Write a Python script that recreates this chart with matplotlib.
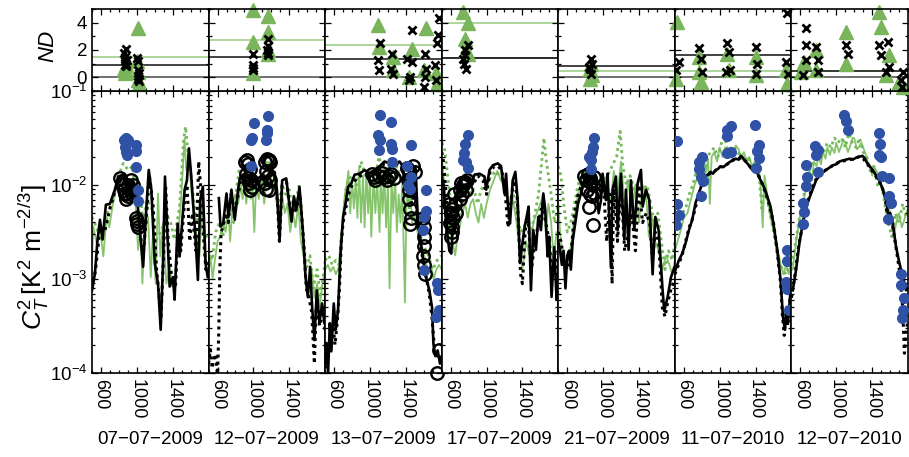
"""C_T^2 daily courses (bottom) and ND scatter (top) for seven measurement days."""
import matplotlib
matplotlib.use("Agg")
import matplotlib.pyplot as plt
from matplotlib.ticker import MultipleLocator, FixedLocator, LogLocator, NullFormatter

plt.rcParams["font.family"] = ["Liberation Sans", "DejaVu Sans"]
plt.rcParams["mathtext.fontset"] = "custom"
plt.rcParams["mathtext.rm"] = "Liberation Sans"
plt.rcParams["mathtext.it"] = "Liberation Sans:italic"

days = ["07\u221207\u22122009", "12\u221207\u22122009", "13\u221207\u22122009", "17\u221207\u22122009",
        "21\u221207\u22122009", "11\u221207\u22122010", "12\u221207\u22122010"]

# log10(C_T^2) against time of day, one list of (time, value) per day
ct2_black_solid = [
    [(500, -3.12), (533, -2.94), (560, -2.6), (589, -2.37), (618, -2.58), (655, -2.21), (700, -2.20),
     (755, -2.05), (792, -1.91), (848, -1.89), (903, -1.95), (959, -1.98), (996, -2.05), (1033, -2.48),
     (1070, -2.87), (1100, -2.34), (1133, -1.84), (1162, -2.05), (1200, -2.83), (1236, -3.05),
     (1266, -3.54), (1292, -2.83), (1314, -1.91), (1336, -2.41), (1366, -3.08), (1403, -2.98),
     (1421, -3.22), (1455, -2.41), (1477, -2.76), (1533, -2.05), (1559, -1.95), (1581, -1.61),
     (1607, -1.91), (1633, -2.27), (1655, -2.58), (1681, -3.01), (1707, -2.16), (1736, -2.02),
     (1766, -2.83), (1792, -2.98)],
    [(615, -2.14), (633, -2.44), (663, -2.41), (700, -2.09), (722, -2.34), (755, -2.05), (792, -2.37),
     (829, -2.05), (848, -1.93), (885, -1.89), (940, -1.93), (996, -1.95), (1051, -1.93), (1107, -1.89),
     (1150, -1.95), (1181, -1.86), (1236, -1.86), (1262, -2.05), (1292, -2.58), (1321, -1.95),
     (1366, -1.93), (1395, -2.16), (1425, -2.39), (1451, -2.12), (1477, -2.27), (1514, -2.02),
     (1551, -2.48), (1581, -2.98), (1607, -3.19), (1633, -2.87), (1655, -3.30), (1681, -3.65),
     (1707, -3.12), (1736, -3.47), (1766, -3.26), (1792, -3.47)],
    [(500, -3.90), (515, -3.68), (533, -4.0), (552, -3.47), (570, -3.76), (596, -3.26), (618, -3.54),
     (644, -3.33), (670, -2.76), (700, -2.34), (729, -2.19), (755, -2.02), (792, -1.98), (829, -1.89),
     (885, -1.88), (940, -1.84), (996, -1.88), (1051, -1.84), (1107, -1.80), (1162, -1.75),
     (1218, -1.77), (1273, -1.79), (1329, -1.75), (1366, -1.80), (1395, -2.05), (1421, -1.88),
     (1447, -2.02), (1477, -2.12), (1507, -1.80), (1533, -2.34), (1559, -2.55), (1588, -2.76),
     (1625, -2.98), (1662, -3.12), (1692, -3.30), (1707, -3.68), (1729, -3.82), (1755, -3.76),
     (1781, -3.90), (1800, -3.85)],
    [(500, -1.9), (520, -2.0), (540, -2.3), (560, -2.5), (585, -2.7), (607, -2.73), (626, -2.41),
     (644, -2.5), (665, -2.2), (681, -2.05), (718, -1.95), (774, -1.91), (829, -1.98), (866, -1.89),
     (922, -1.88), (977, -1.91), (996, -2.05), (1033, -1.84), (1070, -1.79), (1125, -1.77),
     (1162, -1.80), (1199, -2.09), (1218, -1.88), (1236, -2.19), (1262, -2.41), (1292, -1.95),
     (1321, -1.86), (1347, -2.16), (1373, -2.83), (1395, -2.66), (1425, -2.44), (1447, -2.34),
     (1469, -2.23), (1495, -3.12), (1521, -2.48), (1551, -2.69), (1577, -2.34), (1607, -2.48),
     (1633, -2.09), (1655, -2.27), (1681, -2.76), (1699, -2.55), (1725, -3.19), (1755, -2.66),
     (1781, -3.22), (1800, -3.0)],
    [(500, -2.6), (520, -2.7), (540, -2.85), (560, -2.7), (580, -3.1), (600, -2.75), (620, -2.7),
     (640, -2.9), (660, -2.6), (690, -2.4), (720, -2.2), (750, -2.1), (780, -2.0), (810, -1.88),
     (850, -1.95), (880, -1.9), (920, -2.0), (950, -2.3), (976, -2.16), (994, -1.88), (1031, -2.16),
     (1050, -1.88), (1087, -2.88), (1106, -2.05), (1143, -1.91), (1162, -2.48), (1199, -1.88),
     (1236, -2.58), (1255, -2.05), (1284, -2.69), (1310, -1.95), (1348, -2.48), (1385, -1.98),
     (1422, -1.84), (1441, -2.23), (1478, -2.05), (1515, -2.16), (1552, -2.95), (1582, -2.34),
     (1619, -2.48), (1664, -3.13), (1682, -3.34), (1720, -3.19), (1757, -2.98), (1794, -2.88)],
    [(508, -2.90), (545, -2.80), (582, -2.73), (619, -2.62), (657, -2.48), (694, -2.37), (731, -2.19),
     (768, -2.09), (805, -1.98), (842, -1.91), (870, -1.89), (898, -1.86), (925, -1.88), (954, -1.84),
     (980, -1.83), (1010, -1.80), (1040, -1.81), (1065, -1.79), (1090, -1.77), (1121, -1.75),
     (1150, -1.74), (1177, -1.72), (1214, -1.73), (1235, -1.69), (1251, -1.70), (1280, -1.74),
     (1307, -1.77), (1335, -1.80), (1363, -1.84), (1390, -1.85), (1419, -1.87), (1445, -1.93),
     (1474, -1.98), (1500, -2.04), (1530, -2.12), (1567, -2.23), (1604, -2.44), (1642, -2.69),
     (1679, -3.01), (1705, -3.40), (1727, -3.54), (1746, -3.30), (1764, -3.44), (1790, -3.12)],
    [(515, -3.12), (552, -2.90), (589, -2.62), (626, -2.41), (664, -2.23), (719, -2.09), (775, -1.95),
     (831, -1.88), (887, -1.84), (961, -1.79), (1000, -1.78), (1035, -1.75), (1070, -1.74),
     (1110, -1.73), (1150, -1.72), (1184, -1.73), (1220, -1.71), (1258, -1.70), (1290, -1.69),
     (1314, -1.71), (1340, -1.76), (1370, -1.80), (1400, -1.83), (1426, -1.87), (1455, -1.92),
     (1481, -1.95), (1518, -2.05), (1556, -2.16), (1593, -2.41), (1610, -2.33), (1630, -2.41),
     (1667, -2.66), (1704, -2.83), (1741, -2.97), (1779, -3.12), (1800, -3.1)],
]

ct2_black_dotted = [
    [(500, -3.1), (540, -2.9), (590, -2.45), (640, -2.5), (700, -2.25), (760, -2.05), (820, -1.95),
     (880, -2.0), (940, -2.0), (990, -2.1), (1030, -2.45), (1070, -2.75), (1110, -2.3), (1140, -1.9),
     (1180, -2.2), (1220, -2.9), (1270, -3.4), (1300, -2.7), (1320, -2.0), (1350, -2.6), (1390, -3.0),
     (1430, -3.1), (1460, -2.5), (1490, -2.7), (1530, -2.2), (1560, -2.0), (1590, -2.6), (1620, -2.3),
     (1660, -2.7), (1690, -1.75), (1710, -2.0), (1740, -2.5), (1770, -2.9), (1800, -2.8)],
    [(500, -3.9), (520, -3.75), (540, -3.95), (560, -3.85), (580, -3.8), (600, -4.05), (615, -3.5),
     (625, -2.9), (640, -2.5), (660, -2.45), (690, -2.3), (720, -2.4), (750, -2.1), (790, -2.3),
     (830, -2.1), (860, -1.95), (900, -1.92), (950, -1.95), (1000, -1.97), (1060, -1.95), (1110, -1.9),
     (1160, -1.95), (1200, -1.88), (1240, -1.9), (1270, -2.2), (1290, -2.6), (1320, -2.0),
     (1370, -1.97), (1400, -2.2), (1440, -2.3), (1480, -2.25), (1520, -2.1), (1560, -2.6),
     (1590, -3.1), (1620, -3.2), (1650, -3.35), (1680, -3.9), (1700, -3.3), (1740, -3.5),
     (1770, -3.3), (1800, -3.55)],
    [(500, -3.95), (520, -3.85), (540, -3.7), (560, -3.8), (590, -3.5), (610, -3.7), (640, -3.4),
     (660, -3.1), (680, -2.6), (700, -2.4), (730, -2.25), (760, -2.1), (800, -2.0), (850, -1.93),
     (900, -1.9), (950, -1.88), (1000, -1.9), (1050, -1.85), (1100, -1.83), (1150, -1.78),
     (1200, -1.8), (1250, -1.8), (1300, -1.78), (1350, -1.82), (1400, -1.95), (1430, -2.1),
     (1470, -2.2), (1500, -2.0), (1530, -2.4), (1560, -2.6), (1590, -2.8), (1630, -3.0),
     (1660, -3.15), (1690, -3.4), (1720, -3.75), (1750, -3.8), (1780, -3.82), (1800, -3.9)],
    [(500, -1.65), (520, -1.75), (540, -2.0), (560, -2.2), (590, -2.4), (620, -2.35), (650, -2.2),
     (680, -2.1), (720, -2.2), (760, -1.95), (800, -1.95), (850, -2.0), (900, -1.9), (960, -1.95),
     (1000, -2.1), (1040, -1.85), (1090, -1.8), (1130, -1.8), (1170, -1.85), (1200, -2.0),
     (1240, -2.45), (1270, -2.2), (1300, -1.95), (1340, -2.1), (1380, -2.95), (1400, -3.05),
     (1430, -2.5), (1460, -2.3), (1500, -2.9), (1540, -2.6), (1580, -2.4), (1620, -2.2),
     (1660, -2.4), (1700, -2.6), (1730, -3.0), (1760, -2.7), (1800, -3.1)],
    [(500, -2.5), (530, -2.6), (560, -2.8), (600, -2.9), (640, -2.75), (680, -2.3), (720, -2.1),
     (760, -2.0), (800, -1.95), (850, -1.9), (900, -1.95), (950, -2.0), (980, -2.1), (1000, -1.95),
     (1040, -2.6), (1080, -2.1), (1100, -3.05), (1120, -2.0), (1160, -2.6), (1200, -2.0),
     (1240, -2.7), (1280, -2.5), (1320, -2.3), (1360, -2.7), (1400, -2.0), (1440, -2.4),
     (1480, -2.3), (1520, -2.4), (1550, -2.8), (1580, -2.5), (1620, -2.6), (1660, -3.3),
     (1690, -3.4), (1720, -3.25), (1760, -3.1), (1800, -3.0)],
    [(500, -2.95), (540, -2.85), (580, -2.75), (620, -2.6), (660, -2.45), (700, -2.35), (740, -2.2),
     (780, -2.05), (820, -1.95), (860, -1.9), (900, -1.87), (950, -1.85), (1000, -1.81), (1050, -1.8),
     (1100, -1.77), (1150, -1.73), (1200, -1.72), (1250, -1.71), (1300, -1.76), (1350, -1.82),
     (1400, -1.86), (1450, -1.93), (1500, -2.05), (1550, -2.2), (1600, -2.4), (1640, -2.7),
     (1680, -3.05), (1700, -3.4), (1720, -3.6), (1740, -3.35), (1760, -3.5), (1790, -3.15)],
    [(500, -3.2), (540, -2.95), (580, -2.65), (620, -2.45), (660, -2.25), (700, -2.12), (750, -1.98),
     (800, -1.9), (850, -1.86), (900, -1.83), (950, -1.8), (1000, -1.77), (1050, -1.75), (1100, -1.74),
     (1150, -1.73), (1200, -1.72), (1250, -1.7), (1300, -1.72), (1350, -1.78), (1400, -1.85),
     (1450, -1.92), (1500, -2.0), (1540, -2.1), (1570, -2.35), (1600, -2.3), (1640, -2.5),
     (1680, -2.75), (1710, -2.95), (1740, -3.3), (1760, -3.79), (1780, -3.6), (1800, -3.4)],
]

ct2_green_solid = [
    [(500, -2.8), (515, -2.44), (552, -2.62), (589, -2.45), (626, -2.76), (663, -2.34), (692, -2.45),
     (729, -2.23), (774, -2.02), (818, -1.95), (866, -1.91), (914, -2.02), (940, -2.19), (977, -2.05),
     (1014, -2.69), (1040, -2.41), (1062, -3.05), (1088, -2.48), (1125, -2.34), (1155, -2.98),
     (1181, -2.48), (1210, -3.05), (1236, -2.09), (1262, -2.76), (1292, -2.41), (1329, -3.05),
     (1366, -2.87), (1395, -3.08), (1432, -2.98), (1458, -2.58), (1495, -2.12), (1533, -1.5),
     (1551, -1.84), (1581, -1.70), (1607, -2.05), (1644, -2.41), (1670, -2.55), (1699, -2.76),
     (1729, -2.16), (1755, -2.58), (1781, -2.98), (1799, -2.90)],
    [(500, -2.95), (520, -2.75), (545, -3.0), (570, -2.8), (600, -2.6), (630, -2.55), (660, -2.4),
     (690, -2.5), (720, -2.25), (740, -2.6), (770, -2.2), (800, -2.1), (830, -2.2), (860, -2.0),
     (880, -2.15), (900, -1.95), (920, -2.2), (950, -1.9), (970, -2.15), (990, -2.05), (1010, -2.5),
     (1030, -2.0), (1060, -2.15), (1090, -1.9), (1120, -2.2), (1150, -1.95), (1180, -1.75),
     (1200, -2.0), (1230, -1.95), (1260, -2.2), (1290, -2.4), (1320, -2.1), (1350, -2.3),
     (1380, -2.2), (1410, -2.5), (1440, -2.3), (1470, -2.45), (1500, -2.2), (1530, -2.6),
     (1560, -2.75), (1590, -3.0), (1620, -3.1), (1650, -2.9), (1680, -3.2), (1710, -3.05),
     (1740, -3.3), (1770, -3.05), (1800, -2.9)],
    [(500, -2.9), (530, -2.85), (560, -2.92), (590, -2.87), (620, -2.95), (650, -2.88), (680, -2.5),
     (700, -2.35), (720, -2.1), (740, -2.0), (760, -1.85), (780, -2.3), (800, -1.95), (820, -2.25),
     (840, -1.95), (860, -2.35), (880, -1.8), (900, -2.4), (922, -1.9), (940, -2.45), (960, -1.85),
     (980, -2.3), (1000, -1.9), (1014, -2.55), (1040, -1.9), (1060, -2.3), (1080, -1.95),
     (1107, -2.5), (1120, -1.85), (1140, -2.3), (1160, -1.9), (1180, -2.45), (1200, -1.95),
     (1218, -3.1), (1240, -1.95), (1260, -2.3), (1280, -1.9), (1300, -2.5), (1320, -2.1),
     (1340, -2.4), (1360, -2.0), (1390, -3.25), (1410, -2.0), (1430, -2.2), (1450, -2.05),
     (1470, -2.4), (1500, -2.3), (1530, -2.5), (1560, -2.6), (1590, -2.7), (1620, -2.8),
     (1650, -2.95), (1680, -2.85), (1710, -3.0), (1740, -2.9), (1770, -2.85), (1800, -2.9)],
    [(500, -1.7), (520, -1.9), (540, -2.1), (560, -2.3), (590, -2.5), (620, -2.6), (650, -2.75),
     (670, -2.6), (700, -2.45), (730, -2.3), (760, -2.2), (790, -2.35), (820, -2.2), (850, -2.15),
     (880, -2.3), (910, -2.4), (940, -2.2), (970, -2.35), (1000, -2.2), (1040, -2.05), (1080, -1.95),
     (1120, -1.85), (1160, -1.95), (1200, -2.0), (1240, -2.2), (1280, -2.1), (1320, -2.3),
     (1360, -2.6), (1400, -2.9), (1440, -2.6), (1480, -2.75), (1520, -2.4), (1560, -2.3),
     (1600, -2.2), (1630, -2.1), (1660, -2.5), (1690, -2.2), (1720, -2.4), (1750, -2.8),
     (1780, -2.5), (1800, -2.6)],
    [(500, -2.2), (520, -2.5), (550, -2.8), (580, -2.9), (610, -2.8), (640, -2.65), (680, -2.35),
     (720, -2.1), (760, -1.95), (800, -1.85), (840, -2.0), (880, -1.9), (920, -2.05), (960, -1.95),
     (1000, -2.1), (1040, -1.9), (1080, -2.2), (1120, -1.85), (1160, -2.1), (1200, -1.75),
     (1240, -2.2), (1280, -1.95), (1320, -2.3), (1360, -2.0), (1400, -2.4), (1440, -2.0),
     (1480, -2.1), (1510, -2.55), (1540, -2.3), (1580, -2.6), (1620, -2.7), (1660, -2.9),
     (1700, -2.75), (1740, -2.85), (1770, -2.95), (1800, -2.8)],
    [(500, -2.7), (530, -2.6), (560, -2.5), (600, -2.35), (640, -2.3), (680, -2.15), (720, -2.0),
     (760, -1.9), (790, -1.8), (820, -1.75), (850, -1.85), (870, -1.72), (890, -2.2), (910, -1.7),
     (940, -1.65), (970, -1.75), (1000, -1.6), (1030, -1.7), (1060, -1.6), (1090, -1.68),
     (1120, -1.6), (1150, -1.65), (1180, -1.58), (1210, -1.62), (1240, -1.7), (1270, -1.65),
     (1300, -1.75), (1330, -1.7), (1360, -1.8), (1390, -1.75), (1420, -1.85), (1450, -1.9),
     (1480, -2.45), (1500, -1.9), (1530, -2.1), (1560, -2.3), (1590, -2.45), (1620, -2.55),
     (1650, -2.7), (1680, -2.85), (1710, -2.95), (1740, -2.85), (1770, -2.95), (1800, -2.8)],
    [(515, -2.9), (552, -2.6), (600, -2.3), (650, -2.1), (700, -1.85), (730, -1.95), (750, -1.75),
     (780, -1.8), (800, -1.7), (830, -1.78), (850, -1.65), (880, -1.72), (900, -1.6), (930, -1.68),
     (950, -1.6), (980, -1.66), (1000, -1.55), (1030, -1.65), (1050, -1.6), (1080, -1.52),
     (1100, -1.55), (1130, -1.65), (1150, -1.6), (1180, -1.5), (1200, -1.5), (1230, -1.62),
     (1250, -1.6), (1280, -1.55), (1300, -1.6), (1330, -1.68), (1350, -1.75), (1380, -1.8),
     (1400, -1.9), (1430, -1.82), (1450, -1.85), (1480, -1.95), (1500, -2.0), (1530, -2.05),
     (1550, -2.1), (1580, -2.2), (1600, -2.3), (1630, -2.45), (1650, -2.5), (1680, -2.35),
     (1700, -2.3), (1730, -2.45), (1750, -2.4), (1780, -2.3), (1800, -2.25)],
]

ct2_green_dotted = [
    [(500, -2.34), (533, -2.41), (570, -2.5), (626, -2.48), (681, -2.27), (737, -2.16), (792, -1.91),
     (848, -1.77), (903, -1.84), (951, -1.80), (996, -2.23), (1033, -2.05), (1070, -2.41),
     (1107, -2.16), (1162, -2.23), (1218, -2.58), (1273, -2.48), (1343, -2.34), (1380, -2.41),
     (1417, -2.58), (1477, -2.23), (1521, -1.52), (1544, -1.38), (1570, -1.66), (1607, -1.91),
     (1655, -2.34), (1699, -2.41), (1755, -2.51), (1799, -2.58)],
    [(500, -2.7), (540, -2.8), (580, -2.5), (620, -2.4), (660, -2.55), (700, -2.3), (740, -2.2),
     (780, -2.4), (810, -2.05), (840, -1.85), (880, -1.95), (920, -2.0), (960, -1.9), (1000, -2.1),
     (1040, -1.95), (1080, -2.0), (1120, -1.85), (1160, -1.7), (1200, -1.85), (1240, -1.95),
     (1280, -2.2), (1320, -2.0), (1360, -2.1), (1400, -2.05), (1440, -2.3), (1480, -2.15),
     (1510, -2.0), (1550, -2.5), (1590, -2.9), (1630, -2.75), (1670, -3.1), (1710, -2.9),
     (1750, -3.2), (1800, -2.8)],
    [(500, -2.8), (540, -2.75), (580, -2.85), (620, -2.8), (660, -2.85), (700, -2.4), (730, -2.05),
     (760, -1.95), (800, -1.9), (850, -2.0), (900, -1.75), (950, -1.9), (1000, -1.85), (1050, -1.95),
     (1100, -1.7), (1150, -1.85), (1200, -1.8), (1250, -1.9), (1300, -1.8), (1350, -1.95),
     (1400, -2.0), (1450, -2.3), (1500, -2.4), (1550, -2.5), (1600, -2.65), (1650, -2.75),
     (1700, -2.9), (1750, -2.8), (1800, -2.75)],
    [(500, -1.55), (530, -1.6), (560, -1.85), (590, -2.1), (620, -2.3), (660, -2.4), (700, -2.3),
     (740, -2.15), (780, -2.0), (820, -2.1), (860, -2.05), (900, -2.2), (940, -2.05), (980, -2.0),
     (1020, -1.95), (1060, -1.9), (1100, -1.85), (1140, -1.9), (1180, -1.95), (1220, -2.1),
     (1260, -2.2), (1300, -2.1), (1340, -2.3), (1380, -2.5), (1420, -2.45), (1460, -2.35),
     (1500, -2.5), (1540, -2.3), (1580, -2.1), (1610, -1.8), (1640, -1.5), (1660, -1.7),
     (1690, -1.9), (1720, -2.1), (1760, -2.4), (1800, -2.2)],
    [(500, -1.8), (530, -1.9), (560, -2.2), (600, -2.5), (640, -2.4), (680, -2.2), (720, -2.0),
     (760, -1.9), (800, -1.95), (850, -1.85), (900, -1.9), (950, -2.0), (1000, -1.95), (1050, -1.9),
     (1100, -1.8), (1150, -1.7), (1190, -1.43), (1220, -1.8), (1260, -2.0), (1300, -1.9),
     (1350, -2.05), (1400, -1.95), (1450, -2.05), (1490, -2.0), (1530, -2.2), (1570, -2.4),
     (1610, -2.3), (1650, -2.6), (1690, -2.9), (1730, -2.7), (1770, -2.8), (1800, -2.6)],
    [(500, -2.55), (540, -2.4), (580, -2.3), (620, -2.25), (660, -2.1), (700, -2.0), (740, -1.85),
     (780, -1.75), (820, -2.0), (860, -1.7), (900, -1.65), (940, -1.6), (980, -1.7), (1020, -1.55),
     (1050, -1.45), (1080, -1.6), (1120, -1.65), (1160, -1.6), (1200, -1.65), (1240, -1.7),
     (1280, -1.75), (1320, -1.7), (1360, -1.8), (1400, -1.85), (1440, -1.9), (1470, -2.25),
     (1500, -2.0), (1540, -2.2), (1580, -2.4), (1620, -2.6), (1660, -2.8), (1700, -2.9),
     (1740, -2.95), (1780, -2.85), (1800, -2.9)],
    [(500, -2.85), (540, -2.65), (580, -2.4), (620, -2.2), (660, -2.0), (700, -1.85), (740, -1.75),
     (780, -1.7), (820, -1.6), (860, -1.65), (900, -1.55), (940, -1.6), (980, -1.5), (1020, -1.55),
     (1060, -1.5), (1100, -1.6), (1140, -1.45), (1180, -1.55), (1220, -1.6), (1260, -1.5),
     (1300, -1.65), (1340, -1.7), (1380, -1.85), (1420, -1.8), (1460, -2.0), (1500, -1.95),
     (1540, -2.2), (1580, -2.4), (1620, -2.55), (1660, -2.3), (1700, -2.4), (1740, -2.2),
     (1780, -2.35), (1800, -2.3)],
]

ct2_open = [
    [(810, -1.93), (830, -1.98), (850, -2.0), (860, -2.05), (870, -2.1), (880, -2.08), (900, -2.0),
     (920, -2.05), (940, -1.95), (950, -2.1), (960, -2.0), (880, -2.15), (900, -2.12), (990, -2.35),
     (1000, -2.42), (1010, -2.45), (1000, -2.38)],
    [(905, -1.75), (925, -1.73), (945, -1.78), (960, -1.83), (915, -1.88), (935, -1.93), (950, -1.98),
     (970, -1.95), (985, -2.02), (960, -2.05), (1130, -1.75), (1150, -1.72), (1170, -1.73),
     (1190, -1.76), (1140, -1.85), (1160, -1.9), (1180, -1.95), (1125, -1.98), (1145, -2.04),
     (1175, -2.05)],
    [(1020, -1.88), (1040, -1.92), (1060, -1.95), (1100, -1.9), (1130, -1.87), (1160, -1.92),
     (1190, -1.95), (1210, -1.9), (1240, -1.88), (1270, -1.93), (1410, -1.82), (1440, -1.85),
     (1480, -1.8), (1500, -1.86), (1420, -1.95), (1430, -2.05), (1440, -2.15), (1450, -2.25),
     (1455, -2.35), (1445, -2.42), (1590, -2.35), (1600, -2.45), (1605, -2.55), (1600, -2.65),
     (1595, -2.75), (1600, -2.85), (1610, -2.95), (1770, -3.75), (1750, -4.0)],
    [(580, -2.2), (600, -2.3), (620, -2.25), (590, -2.4), (610, -2.45), (630, -2.35), (650, -2.2),
     (640, -2.1), (660, -2.3), (700, -2.05), (720, -1.98), (740, -2.0), (760, -1.97), (780, -1.95),
     (700, -2.15), (730, -2.1), (770, -2.05), (620, -2.5), (600, -2.55)],
    [(790, -1.9), (810, -1.95), (830, -1.88), (850, -1.93), (870, -1.97), (890, -2.0), (900, -1.92),
     (820, -2.05), (850, -2.1), (880, -2.12), (900, -2.08), (846, -2.23), (889, -2.43)],
    [],
    [],
]

ct2_blue = [
    [(860, -1.52), (880, -1.50), (900, -1.52), (870, -1.60), (880, -1.65), (890, -1.68), (990, -1.57),
     (995, -1.64), (990, -1.81), (1010, -2.05), (1015, -2.17)],
    [(1003, -1.34), (985, -1.50), (975, -1.52), (1166, -1.27), (1155, -1.41), (1150, -1.45),
     (1144, -1.52), (977, -1.80)],
    [(1114, -1.26), (1240, -1.33), (1088, -1.47), (1114, -1.52), (1099, -1.63), (1233, -1.56),
     (1251, -1.62), (1462, -1.57), (1251, -1.75), (1418, -1.80), (1455, -1.91), (1429, -2.0),
     (1444, -2.04), (1629, -2.05), (1621, -2.28), (1603, -2.34), (1588, -2.48), (1607, -2.90),
     (1744, -3.04), (1755, -3.12), (1766, -3.33), (1736, -3.40)],
    [(792, -1.47), (763, -1.56), (744, -1.66), (737, -1.73), (766, -1.75), (792, -1.82)],
    [(894, -1.50), (890, -1.60), (880, -1.65), (846, -1.70), (860, -1.73), (865, -1.83)],
    [(527, -1.53), (519, -2.2), (508, -2.34), (545, -2.32), (515, -2.43), (768, -1.75), (798, -1.70),
     (768, -1.83), (787, -1.92), (813, -1.96), (787, -2.12), (1084, -1.41), (1121, -1.37),
     (1084, -1.48), (1084, -1.66), (1121, -1.65), (1393, -1.36), (1437, -1.57), (1419, -1.64),
     (1437, -1.71), (1407, -1.82), (1753, -2.69), (1746, -2.81), (1735, -3.03), (1753, -3.11),
     (1772, -3.33)],
    [(626, -2.19), (645, -2.29), (634, -2.41), (664, -2.01), (671, -1.92), (664, -1.79), (768, -1.58),
     (794, -1.63), (775, -1.68), (794, -1.86), (1091, -1.25), (1110, -1.32), (1128, -1.41),
     (1474, -1.45), (1489, -1.56), (1481, -1.68), (1500, -1.70), (1511, -1.90), (1585, -1.93),
     (1593, -2.12), (1611, -2.19), (1574, -2.36), (1723, -2.95), (1723, -3.06), (1760, -3.20),
     (1741, -3.33), (1734, -3.42)],
]

# ND scatter (top row)
nd_cross = [
    [(860, 1.8), (875, 2.1), (870, 1.5), (865, 1.2), (880, 1.0), (870, 0.9), (885, 1.3), (875, 0.8),
     (1005, 1.4), (1015, 1.2), (1010, 0.5), (1020, 0.3), (1015, 0.1), (1010, -0.1), (1020, -0.3)],
    [(995, 1.7), (990, 0.9), (1000, 0.7), (995, 0.5), (1160, 2.8), (1165, 2.3), (1155, 2.0),
     (1165, 1.8), (1160, 1.6)],
    [(1110, 2.52), (1243, 1.74), (1095, 1.25), (1102, 0.51), (1232, 0.64), (1258, 0.27), (1418, 1.37),
     (1466, 1.13), (1473, 3.45), (1615, 1.74), (1622, 0.64), (1615, 0.02), (1604, -0.71),
     (1447, 0.02), (1436, -0.22), (1767, 4.31), (1759, 3.09), (1748, 2.48), (1730, 0.89),
     (1737, -0.22)],
    [(794, 2.35), (757, 1.98), (738, 1.37), (746, 1.0), (775, 0.64), (757, 1.6)],
    [(865, 1.37), (876, 1.0), (854, 0.64), (865, 0.27), (843, 0.76)],
    [(545, 1.13), (515, 0.52), (768, 2.11), (787, 1.37), (805, 0.39), (1084, 2.48), (1103, 1.86),
     (1065, 0.39), (1110, 0.52), (1400, 2.23), (1419, 1.0), (1400, 0.27), (1753, 4.68), (1735, 1.13),
     (1764, 0.27)],
    [(664, 3.58), (664, 2.35), (664, 1.25), (634, 0.15), (775, 2.23), (794, 1.25), (794, 0.39),
     (1110, 2.35), (1128, 1.74), (1481, 2.35), (1574, 2.6), (1500, 1.62), (1593, 0.76), (1556, 0.39),
     (1741, 0.39), (1723, -0.22), (1734, -0.71)],
]

nd_triangle = [
    [(860, 0.6), (870, 0.3), (880, 0.9), (890, 0.4), (1010, 3.6), (1000, 1.2), (1015, 0.4),
     (1020, -0.5), (1010, -0.2)],
    [(995, 4.9), (1160, 4.5), (1165, 3.3), (995, 2.6), (1160, 2.0), (1165, 1.7), (995, 0.3)],
    [(1095, 3.82), (1102, 2.23), (1258, 1.5), (1258, 0.5), (1466, 2.1), (1622, 3.58), (1604, 0.52),
     (1436, 0.02), (1733, 0.3), (1752, -0.5)],
    [(738, 4.8), (794, 3.95), (757, 2.84), (775, 1.98), (794, 1.74)],
    [(865, 1.0), (850, 0.64), (876, 0.15), (854, -0.1)],
    [(526, 4.07), (515, -0.1), (768, 1.5), (768, 0.4), (787, -0.35), (1084, 1.74), (1103, 0.52),
     (1400, 1.5), (1400, 0.15), (1753, -0.47), (1735, 0.52)],
    [(1481, 4.8), (1500, 3.7), (1110, 3.33), (645, 1.13), (608, 0.39), (775, 1.98), (775, 0.52),
     (1110, 1.0), (1593, 1.62), (1556, 0.15), (1741, -0.71), (1697, -0.35)],
]

nd_level_green = [1.5, 2.7, 2.35, 4.0, 0.46, 0.44, 0.49]
nd_level_black = [0.9, 1.5, 1.33, 1.4, 0.83, 1.6, 0.49]
nd_level_base = [0.0, 0.0, 0.0, 1.4, 0.0, 0.0, 0.0]

GREEN = "#86c46c"
GREEN_DOT = "#74b85a"
TRI = "#7ab55c"
BLUE = "#2f52a6"


def xy(pairs, log=False):
    t = [p[0] for p in pairs]
    v = [10 ** p[1] if log else p[1] for p in pairs]
    return t, v


fig = plt.figure(figsize=(9.09, 4.57), dpi=100)
gs = fig.add_gridspec(2, 7, left=92 / 909, right=908 / 909, top=1 - 9 / 457, bottom=1 - 373 / 457,
                      height_ratios=[82, 282], hspace=0, wspace=0)

for i in range(7):
    ax_nd = fig.add_subplot(gs[0, i])
    ax = fig.add_subplot(gs[1, i])
    # the ND row sits on top, so its white face hides the upper half of the 10^-1 label
    ax_nd.set_zorder(2)

    # top: ND
    ax_nd.axhline(nd_level_base[i], color="#555555", lw=1.2, zorder=1)
    ax_nd.axhline(nd_level_green[i], color="#9fd08a", lw=1.2, zorder=1)
    ax_nd.axhline(nd_level_black[i], color="#222222", lw=1.2, zorder=1)
    t, v = xy(nd_triangle[i])
    ax_nd.plot(t, v, ls="none", marker="^", ms=10, color=TRI, mec=TRI, clip_on=False, zorder=2)
    t, v = xy(nd_cross[i])
    ax_nd.plot(t, v, ls="none", marker="x", ms=5.5, mew=2.0, color="black", zorder=3)
    ax_nd.set_ylim(-1, 5)
    ax_nd.yaxis.set_major_locator(FixedLocator([0, 2, 4]))
    ax_nd.yaxis.set_minor_locator(MultipleLocator(1))

    # bottom: C_T^2
    t, v = xy(ct2_green_solid[i], log=True)
    ax.plot(t, v, color=GREEN, lw=1.3, zorder=1)
    t, v = xy(ct2_green_dotted[i], log=True)
    ax.plot(t, v, color=GREEN_DOT, lw=2.0, ls=(0, (1, 1.3)), zorder=1.5)
    t, v = xy(ct2_black_dotted[i], log=True)
    ax.plot(t, v, color="black", lw=2.2, ls=(0, (1, 1.3)), zorder=2)
    t, v = xy(ct2_black_solid[i], log=True)
    ax.plot(t, v, color="black", lw=1.9, zorder=3)
    if ct2_open[i]:
        t, v = xy(ct2_open[i], log=True)
        ax.plot(t, v, ls="none", marker="o", ms=9, mfc="none", mec="black", mew=1.7,
                clip_on=False, zorder=4)
    t, v = xy(ct2_blue[i], log=True)
    ax.plot(t, v, ls="none", marker="o", ms=7, color=BLUE, mec=BLUE, zorder=5)
    ax.set_yscale("log")
    ax.set_ylim(1e-4, 1e-1)
    ax.yaxis.set_major_locator(LogLocator(base=10, numticks=10))
    ax.yaxis.set_minor_locator(LogLocator(base=10, subs=range(2, 10), numticks=10))
    ax.yaxis.set_minor_formatter(NullFormatter())

    for a in (ax_nd, ax):
        a.set_xlim(500, 1800)
        a.xaxis.set_major_locator(FixedLocator([600, 1000, 1400]))
        a.xaxis.set_minor_locator(MultipleLocator(100))
        a.tick_params(which="both", direction="in", top=True, right=True, width=0.9,
                      labelsize=13.5)
        a.tick_params(which="major", length=4)
        a.tick_params(which="minor", length=2)
        for s in a.spines.values():
            s.set_linewidth(1.2)

    ax_nd.tick_params(labelbottom=False)
    ax.tick_params(axis="x", labelrotation=-90, pad=4, labelsize=13)
    if i > 0:
        ax_nd.tick_params(labelleft=False)
        ax.tick_params(labelleft=False)

    fig.text((92 + 116.57 * (i + 0.5)) / 909, 1 - 440 / 457, days[i], ha="center", va="center",
             fontsize=13.5)

fig.text(48 / 909, 1 - 46 / 457, "ND", rotation=90, ha="center", va="center", fontsize=16,
         style="italic")
fig.text(34 / 909, 1 - 257 / 457, r"$C_T^2\,[\mathrm{K}^2\ \mathrm{m}^{-2/3}]$", rotation=90,
         ha="center", va="center", fontsize=19)

fig.savefig("out.png", dpi=100)
